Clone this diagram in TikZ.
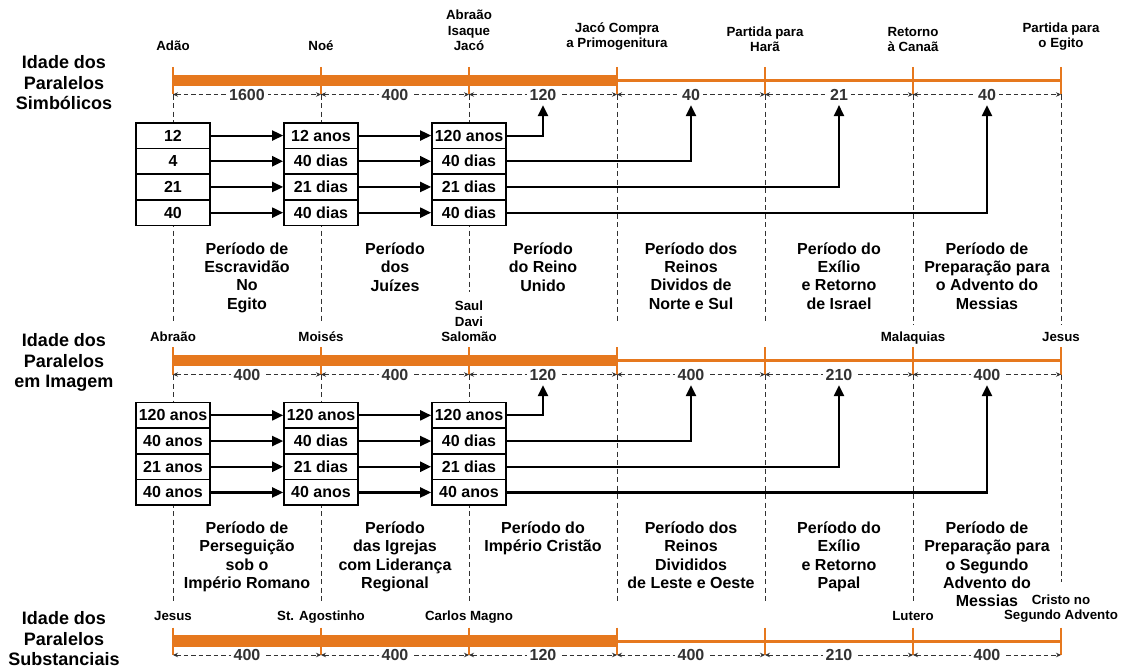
\documentclass[tikz,border=0pt]{standalone}
\usepackage{fontspec}
\setmainfont{Liberation Sans}
\usetikzlibrary{arrows.meta}

\begin{document}
\begin{tikzpicture}[x=1pt,y=-1pt,font=\bfseries]
% Colors
\definecolor{bar}{RGB}{230,120,30}
\definecolor{guide}{RGB}{50,50,50}
\tikzset{
  cell/.style={draw, line width=1.7pt, fill=white, minimum width=74pt, minimum height=25.7pt, inner sep=0pt, font=\fontsize{16}{18}\selectfont\bfseries},
  flow/.style={line width=2.1pt, -{Triangle[length=11pt,width=10pt]}},
  span/.style={guide, line width=0.9pt, dash pattern=on 4.5pt off 3pt, {Stealth[length=5pt,width=4.5pt]}-{Stealth[length=5pt,width=4.5pt]}},
  guideline/.style={guide, line width=0.9pt, dash pattern=on 5pt off 3.5pt},
  spannum/.style={fill=white, inner xsep=3pt, inner ysep=0.5pt, font=\fontsize{16}{18}\selectfont\bfseries},
  who/.style={anchor=base, align=center, inner sep=0pt, font=\fontsize{13.3}{15.5}\selectfont\bfseries},
  era/.style={anchor=base, align=center, inner sep=0pt, font=\fontsize{16}{18.2}\selectfont\bfseries},
  age/.style={anchor=base, align=center, inner sep=0pt, font=\fontsize{18}{20.3}\selectfont\bfseries}
}
\useasboundingbox (0,0) rectangle (1125,669);

% Dashed guide lines
\foreach \x/\a/\b in {173/94.5/323, 321/94.5/323, 469/94.5/292, 617/94.5/323, 765/94.5/323, 913/94.5/325, 1061/94.5/325,
                      173/375/603, 321/375/603, 469/375/603, 617/375/603, 765/375/603, 913/375/603, 1061/375/582}
  \draw[guideline] (\x,\a) -- (\x,\b);

% Timeline bars and ticks
\foreach \y/\n in {80.5/1, 360.5/2, 641/3}{
  \draw[bar, line width=3pt] (617,\y) -- (1061,\y);
  \draw[bar, line width=11.5pt] (173,\y) -- (617,\y);
  \foreach \x [count=\i] in {173,321,...,1061}{
    \draw[bar, line width=1.3pt] (\x,\y-13.5) -- (\x,\y+14);
    \coordinate (t\n-\i) at (\x,\y+14);
  }
}

% Spans between ticks
\foreach \n/\a/\b/\c/\d/\e/\f in {1/1600/400/120/40/21/40, 2/400/400/120/400/210/400, 3/400/400/120/400/210/400}{
  \foreach \i/\v in {1/\a,2/\b,3/\c,4/\d,5/\e,6/\f}{
    \pgfmathtruncatemacro\j{\i+1}
    \draw[span] (t\n-\i) -- (t\n-\j) node[midway, spannum] (s\n-\i) {\v};
  }
}

% Boxes
\foreach \s/\c/\p/\q/\u/\w in {1/1/12/4/21/40, 1/2/12 anos/40 dias/21 dias/40 dias, 1/3/120 anos/40 dias/21 dias/40 dias,
                                2/1/120 anos/40 anos/21 anos/40 anos, 2/2/120 anos/40 dias/21 dias/40 anos, 2/3/120 anos/40 dias/21 dias/40 anos}{
  \pgfmathsetmacro\top{122.7+279.8*(\s-1)}
  \foreach \r/\txt in {1/\p,2/\q,3/\u,4/\w}
    \node[cell] (b\s-\c-\r) at ({25+148*\c},{\top+12.85+25.7*(\r-1)}) {\txt};
}

% Arrows
\foreach \s in {1,2}{
  \foreach \r in {1,...,4}{
    \pgfmathtruncatemacro\k{\r+2}
    \draw[flow] (b\s-1-\r) -- (b\s-2-\r);
    \draw[flow] (b\s-2-\r) -- (b\s-3-\r);
    \draw[flow] (b\s-3-\r.east) -| ([yshift=-4pt]s\s-\k.south);
  }
}

% Names over the ticks (base = last line)
\node[who] (n1-1) at (173,50.8) {Adão};
\node[who] (n1-2) at (321,50.8) {Noé};
\node[who] (n1-3) at (469,50.8) {Abraão\\Isaque\\Jacó};
\node[who] (n1-4) at (617,47.8) {Jacó Compra\\a Primogenitura};
\node[who] (n1-5) at (765,51.8) {Partida para\\Harã};
\node[who] (n1-6) at (913,51.8) {Retorno\\à Canaã};
\node[who] (n1-7) at (1061,47.8) {Partida para\\o Egito};

\node[who] (n2-1) at (173,341.8) {Abraão};
\node[who] (n2-2) at (321,341.8) {Moisés};
\node[who] (n2-3) at (469,341.8) {Saul\\Davi\\Salomão};
\node[who] (n2-6) at (913,341.8) {Malaquias};
\node[who] (n2-7) at (1061,341.8) {Jesus};

\node[who] (n3-1) at (173,620.8) {Jesus};
\node[who] (n3-2) at (321,620.8) {St. Agostinho};
\node[who] (n3-3) at (469,620.8) {Carlos Magno};
\node[who] (n3-6) at (913,620.8) {Lutero};
\node[who] (n3-7) at (1061,619.8) {Cristo no\\Segundo Advento};

% Periods
\node[era] (p1-1) at (247,309.1) {Período de\\Escravidão\\No\\Egito};
\node[era] (p1-2) at (395,291) {Período\\dos\\Juízes};
\node[era] (p1-3) at (543,291) {Período\\do Reino\\Unido};
\node[era] (p1-4) at (691,309.1) {Período dos\\Reinos\\Dividos de\\Norte e Sul};
\node[era] (p1-5) at (839,309.1) {Período do\\Exílio\\e Retorno\\de Israel};
\node[era] (p1-6) at (987,309.1) {Período de\\Preparação para\\o Advento do\\Messias};

\node[era] (p2-1) at (247,588.2) {Período de\\Perseguição\\sob o\\Império Romano};
\node[era] (p2-2) at (395,588.2) {Período\\das Igrejas\\com Liderança\\Regional};
\node[era] (p2-3) at (543,551.8) {Período do\\Império Cristão};
\node[era] (p2-4) at (691,588.2) {Período dos\\Reinos\\Divididos\\de Leste e Oeste};
\node[era] (p2-5) at (839,588.2) {Período do\\Exílio\\e Retorno\\Papal};
\node[era] (p2-6) at (987,606.4) {Período de\\Preparação para\\o Segundo\\Advento do\\Messias};

% Ages
\node[age] (age1) at (64,109.4) {Idade dos\\Paralelos\\Simbólicos};
\node[age] (age2) at (64,387.4) {Idade dos\\Paralelos\\em Imagem};
\node[age] (age3) at (64,665.4) {Idade dos\\Paralelos\\Substanciais};
\end{tikzpicture}
\end{document}
